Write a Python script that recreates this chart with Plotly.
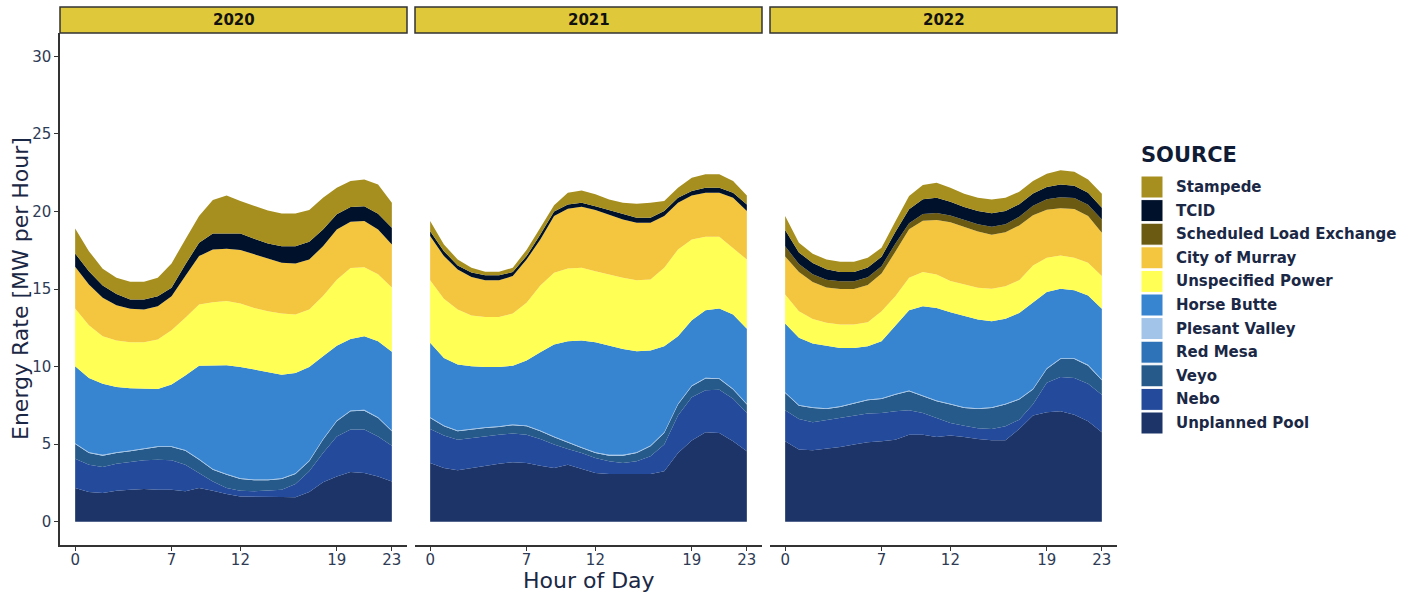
import plotly.graph_objects as go

W, H = 1413, 592

hours = list(range(24))
years = ["2020", "2021", "2022"]
x_ticks = [0, 7, 12, 19, 23]
y_ticks = [0, 5, 10, 15, 20, 25, 30]

# Energy rate (MW per hour) by source and hour of day
unplanned_pool_2020 = [2.17, 1.91, 1.85, 2.00, 2.06, 2.11, 2.06, 2.06, 1.96, 2.17, 2.00, 1.78, 1.63, 1.63, 1.63, 1.59, 1.57, 1.91, 2.54, 2.92, 3.20, 3.14, 2.92, 2.60]
nebo_2020 = [1.89, 1.77, 1.68, 1.74, 1.79, 1.85, 1.94, 1.90, 1.72, 0.97, 0.60, 0.39, 0.37, 0.33, 0.37, 0.47, 0.86, 1.34, 1.89, 2.58, 2.74, 2.80, 2.58, 2.30]
veyo_2020 = [0.95, 0.75, 0.73, 0.69, 0.69, 0.73, 0.82, 0.86, 0.90, 0.86, 0.75, 0.86, 0.75, 0.71, 0.67, 0.69, 0.65, 0.64, 0.86, 0.97, 1.18, 1.22, 1.19, 0.93]
red_mesa_2020 = [0.0, 0.0, 0.0, 0.0, 0.0, 0.0, 0.0, 0.0, 0.0, 0.0, 0.0, 0.0, 0.0, 0.0, 0.0, 0.0, 0.0, 0.0, 0.0, 0.0, 0.0, 0.0, 0.0, 0.0]
plesant_valley_2020 = [0.05, 0.05, 0.05, 0.05, 0.05, 0.05, 0.05, 0.05, 0.05, 0.05, 0.05, 0.05, 0.05, 0.05, 0.05, 0.05, 0.05, 0.05, 0.05, 0.05, 0.05, 0.05, 0.05, 0.05]
horse_butte_2020 = [4.96, 4.79, 4.59, 4.21, 4.01, 3.82, 3.69, 3.97, 4.79, 6.01, 6.69, 7.01, 7.18, 7.09, 6.91, 6.68, 6.46, 6.04, 5.33, 4.83, 4.61, 4.75, 4.89, 5.07]
unspecified_2020 = [3.72, 3.40, 3.06, 2.99, 2.97, 3.01, 3.18, 3.50, 3.72, 3.94, 4.06, 4.13, 4.08, 3.97, 3.94, 3.94, 3.76, 3.70, 3.88, 4.25, 4.57, 4.44, 4.32, 4.15]
city_of_murray_2020 = [2.69, 2.62, 2.47, 2.28, 2.15, 2.11, 2.15, 2.20, 2.69, 3.12, 3.40, 3.38, 3.45, 3.45, 3.38, 3.27, 3.30, 3.22, 3.21, 3.24, 2.98, 2.98, 2.89, 2.77]
sched_load_2020 = [0.0, 0.0, 0.0, 0.0, 0.0, 0.0, 0.0, 0.0, 0.0, 0.0, 0.0, 0.0, 0.0, 0.0, 0.0, 0.0, 0.0, 0.0, 0.0, 0.0, 0.0, 0.0, 0.0, 0.0]
tcid_2020 = [0.86, 0.86, 0.80, 0.71, 0.60, 0.64, 0.65, 0.54, 0.75, 0.86, 1.03, 1.00, 1.07, 1.01, 0.99, 1.07, 1.11, 1.14, 1.08, 0.97, 0.95, 0.96, 1.01, 1.08]
stampede_2020 = [1.61, 1.29, 1.07, 1.05, 1.14, 1.14, 1.18, 1.57, 1.61, 1.72, 2.15, 2.43, 2.09, 2.10, 2.12, 2.11, 2.11, 2.05, 2.04, 1.72, 1.68, 1.72, 1.89, 1.61]

unplanned_pool_2021 = [3.78, 3.46, 3.31, 3.46, 3.61, 3.74, 3.83, 3.78, 3.61, 3.46, 3.68, 3.40, 3.14, 3.08, 3.08, 3.08, 3.08, 3.25, 4.43, 5.23, 5.76, 5.72, 5.18, 4.54]
nebo_2021 = [2.20, 2.09, 1.98, 1.94, 1.90, 1.87, 1.85, 1.83, 1.72, 1.51, 1.01, 1.03, 0.97, 0.81, 0.70, 0.81, 1.14, 1.72, 2.42, 2.80, 2.72, 2.78, 2.74, 2.46]
veyo_2021 = [0.71, 0.60, 0.54, 0.54, 0.53, 0.50, 0.54, 0.54, 0.50, 0.47, 0.39, 0.32, 0.32, 0.37, 0.48, 0.54, 0.64, 0.75, 0.70, 0.70, 0.75, 0.70, 0.60, 0.55]
red_mesa_2021 = [0.0, 0.0, 0.0, 0.0, 0.0, 0.0, 0.0, 0.0, 0.0, 0.0, 0.0, 0.0, 0.0, 0.0, 0.0, 0.0, 0.0, 0.0, 0.0, 0.0, 0.0, 0.0, 0.0, 0.0]
plesant_valley_2021 = [0.05, 0.05, 0.05, 0.05, 0.05, 0.05, 0.05, 0.05, 0.05, 0.05, 0.05, 0.05, 0.05, 0.05, 0.05, 0.05, 0.05, 0.05, 0.05, 0.05, 0.05, 0.05, 0.05, 0.05]
horse_butte_2021 = [4.79, 4.36, 4.25, 4.03, 3.89, 3.82, 3.79, 4.19, 5.04, 5.93, 6.50, 6.88, 7.09, 7.04, 6.83, 6.51, 6.12, 5.54, 4.36, 4.21, 4.35, 4.49, 4.78, 4.83]
unspecified_2021 = [4.04, 3.81, 3.55, 3.27, 3.22, 3.22, 3.36, 3.72, 4.31, 4.62, 4.69, 4.69, 4.58, 4.59, 4.58, 4.58, 4.58, 5.06, 5.59, 5.20, 4.74, 4.63, 4.31, 4.47]
city_of_murray_2021 = [2.84, 2.75, 2.58, 2.49, 2.37, 2.37, 2.41, 2.79, 2.96, 3.66, 3.85, 3.93, 3.94, 3.87, 3.76, 3.70, 3.66, 3.33, 3.01, 2.84, 2.83, 2.83, 3.22, 3.12]
sched_load_2021 = [0.0, 0.0, 0.0, 0.0, 0.0, 0.0, 0.0, 0.0, 0.0, 0.0, 0.0, 0.0, 0.0, 0.0, 0.0, 0.0, 0.0, 0.0, 0.0, 0.0, 0.0, 0.0, 0.0, 0.0]
tcid_2021 = [0.32, 0.32, 0.26, 0.28, 0.32, 0.32, 0.26, 0.22, 0.33, 0.30, 0.28, 0.26, 0.25, 0.28, 0.33, 0.32, 0.32, 0.32, 0.32, 0.28, 0.33, 0.33, 0.32, 0.43]
stampede_2021 = [0.65, 0.43, 0.38, 0.31, 0.22, 0.22, 0.28, 0.40, 0.43, 0.39, 0.75, 0.79, 0.76, 0.68, 0.75, 0.90, 0.97, 0.65, 0.65, 0.86, 0.86, 0.86, 0.76, 0.58]

unplanned_pool_2022 = [5.18, 4.65, 4.60, 4.69, 4.82, 4.97, 5.12, 5.18, 5.29, 5.61, 5.61, 5.46, 5.55, 5.46, 5.33, 5.25, 5.25, 5.98, 6.84, 7.05, 7.12, 6.90, 6.47, 5.76]
nebo_2022 = [2.00, 1.97, 1.81, 1.85, 1.87, 1.87, 1.85, 1.83, 1.83, 1.57, 1.40, 1.23, 0.82, 0.73, 0.69, 0.73, 0.90, 0.59, 0.73, 1.90, 2.21, 2.37, 2.43, 2.43]
veyo_2022 = [1.12, 0.86, 0.92, 0.73, 0.71, 0.77, 0.86, 0.90, 1.07, 1.23, 1.08, 1.07, 1.18, 1.14, 1.25, 1.35, 1.40, 1.30, 0.95, 0.90, 1.16, 1.22, 1.16, 0.93]
red_mesa_2022 = [0.0, 0.0, 0.0, 0.0, 0.0, 0.0, 0.0, 0.0, 0.0, 0.0, 0.0, 0.0, 0.0, 0.0, 0.0, 0.0, 0.0, 0.0, 0.0, 0.0, 0.0, 0.0, 0.0, 0.0]
plesant_valley_2022 = [0.05, 0.05, 0.05, 0.05, 0.05, 0.05, 0.05, 0.05, 0.05, 0.05, 0.05, 0.05, 0.05, 0.05, 0.05, 0.05, 0.05, 0.05, 0.05, 0.05, 0.05, 0.05, 0.05, 0.05]
horse_butte_2022 = [4.42, 4.32, 4.10, 4.03, 3.75, 3.54, 3.43, 3.67, 4.36, 5.17, 5.75, 5.97, 5.90, 5.91, 5.71, 5.54, 5.48, 5.54, 5.54, 4.90, 4.47, 4.38, 4.47, 4.55]
unspecified_2022 = [1.88, 1.72, 1.59, 1.47, 1.51, 1.51, 1.55, 1.94, 1.94, 2.09, 2.20, 2.16, 2.01, 2.00, 2.05, 2.09, 2.10, 2.11, 2.41, 2.21, 2.15, 2.09, 2.11, 2.11]
city_of_murray_2022 = [2.45, 2.53, 2.38, 2.28, 2.29, 2.29, 2.39, 2.43, 2.86, 3.13, 3.31, 3.51, 3.79, 3.71, 3.62, 3.49, 3.47, 3.53, 3.23, 3.09, 3.04, 3.14, 3.01, 2.79]
sched_load_2022 = [0.65, 0.51, 0.50, 0.50, 0.50, 0.50, 0.50, 0.46, 0.52, 0.39, 0.43, 0.45, 0.43, 0.44, 0.48, 0.51, 0.52, 0.55, 0.61, 0.68, 0.72, 0.71, 0.73, 0.86]
tcid_2022 = [1.05, 0.75, 0.72, 0.68, 0.60, 0.60, 0.64, 0.62, 0.75, 0.90, 0.95, 0.98, 0.90, 0.85, 0.85, 0.88, 0.86, 0.82, 0.80, 0.80, 0.82, 0.80, 0.78, 0.76]
stampede_2022 = [0.90, 0.62, 0.60, 0.62, 0.65, 0.65, 0.62, 0.58, 0.68, 0.85, 0.92, 0.97, 0.90, 0.85, 0.85, 0.88, 0.85, 0.80, 0.80, 0.85, 0.91, 0.90, 0.85, 0.90]

# Stacking order, bottom to top
sources = ["Unplanned Pool", "Nebo", "Veyo", "Red Mesa", "Plesant Valley", "Horse Butte",
           "Unspecified Power", "City of Murray", "Scheduled Load Exchange", "TCID", "Stampede"]
colors = {
    "Unplanned Pool": "#1C3468",
    "Nebo": "#244A9B",
    "Veyo": "#265A8A",
    "Red Mesa": "#2E73B8",
    "Plesant Valley": "#A1C4E8",
    "Horse Butte": "#3784D0",
    "Unspecified Power": "#FFFF55",
    "City of Murray": "#F4C53E",
    "Scheduled Load Exchange": "#6B5A12",
    "TCID": "#00112B",
    "Stampede": "#A68F1E",
}
series = {
    "2020": [unplanned_pool_2020, nebo_2020, veyo_2020, red_mesa_2020, plesant_valley_2020, horse_butte_2020,
             unspecified_2020, city_of_murray_2020, sched_load_2020, tcid_2020, stampede_2020],
    "2021": [unplanned_pool_2021, nebo_2021, veyo_2021, red_mesa_2021, plesant_valley_2021, horse_butte_2021,
             unspecified_2021, city_of_murray_2021, sched_load_2021, tcid_2021, stampede_2021],
    "2022": [unplanned_pool_2022, nebo_2022, veyo_2022, red_mesa_2022, plesant_valley_2022, horse_butte_2022,
             unspecified_2022, city_of_murray_2022, sched_load_2022, tcid_2022, stampede_2022],
}


def px(x):
    return x / W


def py(y):
    return 1 - y / H


panel_px = [(60, 407), (415, 762), (770, 1117)]
plot_top, plot_bottom = 33, 545
strip_top = 7

fig = go.Figure()

for i, year in enumerate(years):
    suffix = "" if i == 0 else str(i + 1)
    for name, vals in zip(sources, series[year]):
        fig.add_trace(go.Scatter(
            x=hours, y=vals, name=name,
            mode="lines", line=dict(width=0, color=colors[name]),
            fillcolor=colors[name], stackgroup=year,
            xaxis="x" + suffix, yaxis="y" + suffix,
            showlegend=False,
        ))

tick_font = dict(family="DejaVu Sans", size=15, color="#2E3B55")
layout = dict(
    width=W, height=H,
    margin=dict(l=0, r=0, t=0, b=0),
    paper_bgcolor="white", plot_bgcolor="white",
    font=dict(family="DejaVu Sans", color="#1B2845"),
    showlegend=False,
)
for i, (x0, x1) in enumerate(panel_px):
    suffix = "" if i == 0 else str(i + 1)
    layout["xaxis" + suffix] = dict(
        domain=[px(x0), px(x1)], range=[-1.1, 24.1],
        tickvals=x_ticks, ticks="outside", ticklen=4, tickwidth=1.2, tickcolor="#333333",
        ticklabelstandoff=-4,
        showline=True, linecolor="#333333", linewidth=1.5,
        showgrid=False, zeroline=False, tickfont=tick_font,
        anchor="y" + suffix, fixedrange=True,
    )
    layout["yaxis" + suffix] = dict(
        domain=[py(plot_bottom), py(plot_top)], range=[-1.5, 31.5],
        tickvals=y_ticks, showgrid=False, zeroline=False,
        anchor="x" + suffix, fixedrange=True,
        showline=(i == 0), linecolor="#333333", linewidth=1.5,
        ticks="outside" if i == 0 else "", ticklen=4, tickwidth=1.2, tickcolor="#333333",
        showticklabels=(i == 0), tickfont=tick_font,
    )

shapes = []
annotations = []

# Facet strips
for (x0, x1), year in zip(panel_px, years):
    shapes.append(dict(type="rect", xref="paper", yref="paper",
                       x0=px(x0), x1=px(x1), y0=py(plot_top), y1=py(strip_top),
                       fillcolor="#DFC83A", line=dict(color="#333333", width=1.5)))
    annotations.append(dict(xref="paper", yref="paper", x=px((x0 + x1) / 2), y=py((strip_top + plot_top) / 2),
                            text="<b>%s</b>" % year, showarrow=False, xanchor="center", yanchor="middle",
                            font=dict(family="DejaVu Sans", size=15, color="#111111")))

# Axis titles
annotations.append(dict(xref="paper", yref="paper", x=px(589), y=py(580), text="Hour of Day",
                        showarrow=False, xanchor="center", yanchor="middle",
                        font=dict(family="DejaVu Sans", size=22, color="#1B2845")))
annotations.append(dict(xref="paper", yref="paper", x=px(20), y=py(289), text="Energy Rate [MW per Hour]",
                        showarrow=False, textangle=-90, xanchor="center", yanchor="middle",
                        font=dict(family="DejaVu Sans", size=22, color="#1B2845")))

# Legend
annotations.append(dict(xref="paper", yref="paper", x=px(1139), y=py(155), text="<b>SOURCE</b>",
                        showarrow=False, xanchor="left", yanchor="middle",
                        font=dict(family="DejaVu Sans", size=21, color="#101B35")))
row0, row_step, box = 187, 23.6, 22
for k, name in enumerate(reversed(sources)):
    cy = row0 + k * row_step
    shapes.append(dict(type="rect", xref="paper", yref="paper",
                       x0=px(1141), x1=px(1141 + box), y0=py(cy + box / 2), y1=py(cy - box / 2),
                       fillcolor=colors[name], line=dict(color="white", width=1)))
    annotations.append(dict(xref="paper", yref="paper", x=px(1174), y=py(cy), text="<b>%s</b>" % name,
                            showarrow=False, xanchor="left", yanchor="middle",
                            font=dict(family="DejaVu Sans", size=15, color="#1B2845")))

layout["shapes"] = shapes
layout["annotations"] = annotations
fig.update_layout(**layout)

fig.write_html("out.html")
